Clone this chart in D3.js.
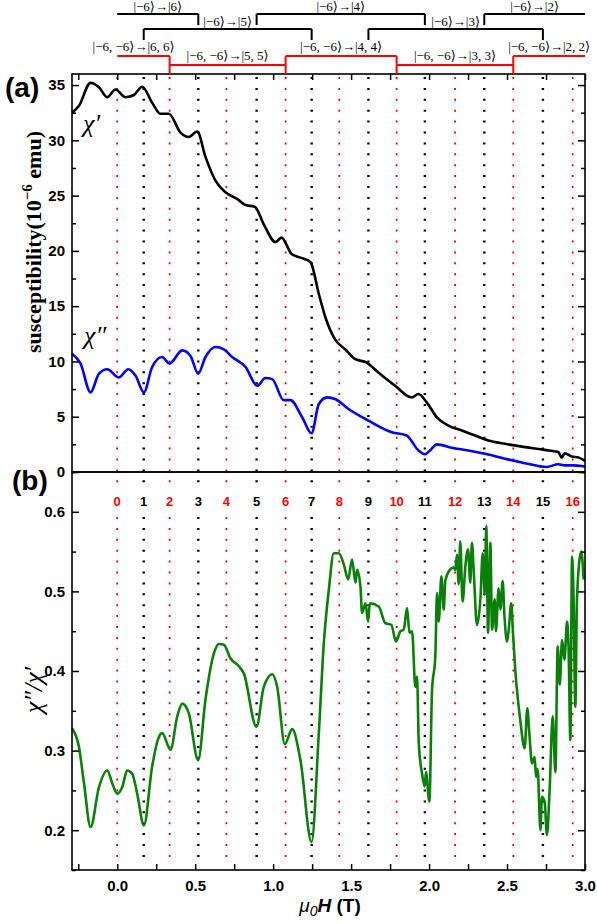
<!DOCTYPE html>
<html><head><meta charset="utf-8">
<script src="https://cdn.jsdelivr.net/npm/d3@7"></script>
<style>body{margin:0;background:#fff}</style>
</head><body>
<svg id="c" width="597" height="924"></svg>
<script>
// ---- data ----
const chiPrimeT = [-0.29,-0.246,-0.171,-0.117,-0.064,-0.011,0.053,0.107,0.160,0.224,0.278,0.331,0.406,0.459,0.513,0.566,0.630,0.694,0.769,0.823,0.882,0.94,1.015,1.053,1.12,1.186,1.239,1.293,1.335,1.397,1.462,1.526,1.60,1.675,1.782,1.889,1.932,1.985,2.05,2.124,2.21,2.295,2.38,2.487,2.615,2.74,2.829,2.85,2.87,2.914,2.96,3.0];
const chiPrimeV = [32.5,33.1,35.2,34.8,33.9,34.6,33.9,34.1,34.85,33.4,32.4,32.4,30.7,30.3,30.8,28.5,26.35,25.3,24.7,24.15,24.0,22.4,20.8,21.2,19.7,19.35,19.0,16.1,14.0,12.0,11.1,10.2,9.9,9.0,7.8,6.75,7.05,6.3,4.95,4.2,3.75,3.3,2.85,2.55,2.25,2.0,1.8,1.3,1.7,1.4,1.3,1.0];
const chiDoubleT = [-0.29,-0.235,-0.171,-0.117,-0.064,0.011,0.071,0.118,0.171,0.224,0.288,0.335,0.417,0.47,0.519,0.566,0.630,0.684,0.737,0.823,0.898,0.95,0.994,1.068,1.111,1.186,1.246,1.293,1.346,1.397,1.483,1.611,1.761,1.856,1.932,1.974,2.006,2.05,2.145,2.252,2.359,2.487,2.615,2.754,2.829,2.87,2.92,3.0];
const chiDoubleV = [10.7,9.8,7.2,8.9,9.3,8.55,9.3,8.7,7.2,9.5,10.4,9.8,11.0,10.5,8.9,10.4,11.3,11.1,10.4,9.5,7.8,8.5,8.4,6.5,6.5,4.95,3.5,6.15,6.75,6.6,5.7,4.65,3.6,3.3,1.95,1.6,1.95,2.5,2.2,1.95,1.65,1.2,0.8,0.45,0.7,0.6,0.6,0.5];
const ratioT = [-0.29,-0.246,-0.213,-0.171,-0.117,-0.064,-0.032,0.0,0.032,0.064,0.096,0.128,0.171,0.224,0.263,0.288,0.342,0.385,0.417,0.459,0.519,0.566,0.620,0.652,0.684,0.726,0.78,0.812,0.893,0.94,0.994,1.026,1.075,1.122,1.175,1.246,1.293,1.325,1.357,1.389,1.421,1.453,1.481,1.506,1.528,1.538,1.56,1.57,1.592,1.609,1.62,1.677,1.72,1.758,1.788,1.816,1.837,1.859,1.874,1.891,1.912,1.923,1.934,1.955,1.972,1.98,2.002,2.019,2.04,2.051,2.062,2.079,2.094,2.104,2.126,2.158,2.168,2.179,2.19,2.2,2.215,2.232,2.25,2.264,2.275,2.286,2.307,2.329,2.344,2.357,2.367,2.378,2.393,2.404,2.421,2.429,2.446,2.457,2.472,2.483,2.5,2.51,2.527,2.538,2.553,2.585,2.613,2.63,2.643,2.66,2.677,2.686,2.696,2.714,2.724,2.741,2.756,2.773,2.793,2.81,2.825,2.838,2.853,2.868,2.885,2.895,2.906,2.917,2.927,2.938,2.949,2.976,2.991];
const ratioV = [0.328,0.305,0.259,0.204,0.254,0.275,0.259,0.246,0.254,0.275,0.271,0.246,0.206,0.280,0.315,0.322,0.301,0.343,0.359,0.347,0.288,0.364,0.422,0.434,0.433,0.416,0.406,0.397,0.330,0.380,0.396,0.380,0.308,0.327,0.288,0.185,0.322,0.435,0.502,0.548,0.548,0.534,0.515,0.540,0.511,0.527,0.506,0.473,0.485,0.462,0.485,0.481,0.460,0.458,0.437,0.450,0.452,0.479,0.448,0.450,0.380,0.393,0.309,0.271,0.255,0.273,0.236,0.376,0.418,0.498,0.462,0.519,0.477,0.513,0.525,0.530,0.527,0.546,0.509,0.563,0.487,0.530,0.553,0.511,0.561,0.527,0.458,0.490,0.548,0.496,0.582,0.448,0.561,0.452,0.490,0.450,0.504,0.477,0.513,0.471,0.437,0.450,0.485,0.448,0.401,0.338,0.303,0.353,0.322,0.284,0.292,0.267,0.277,0.200,0.242,0.236,0.194,0.250,0.343,0.273,0.431,0.383,0.439,0.414,0.462,0.427,0.313,0.544,0.490,0.355,0.494,0.550,0.515];
const levelNums = [0,1,2,3,4,5,6,7,8,9,10,11,12,13,14,15,16];
const levelT = [0,0.17,0.336,0.52,0.70,0.894,1.08,1.247,1.424,1.611,1.792,1.973,2.167,2.354,2.54,2.73,2.921];
const redBreaks = [0,2,6,10,14];
const redLabels = ["|−6, −6⟩→|6, 6⟩","|−6, −6⟩→|5, 5⟩","|−6, −6⟩→|4, 4⟩","|−6, −6⟩→|3, 3⟩","|−6, −6⟩→|2, 2⟩"];
const row1Spans = [[0,3],[5,11],[13,null]];
const row1Labels = ["|−6⟩→|6⟩","|−6⟩→|4⟩","|−6⟩→|2⟩"];
const row2Spans = [[1,7],[9,15]];
const row2Labels = ["|−6⟩→|5⟩","|−6⟩→|3⟩"];
const xTicks = [0,0.5,1.0,1.5,2.0,2.5,3.0];
const xMinor = [-0.25,0.25,0.75,1.25,1.75,2.25,2.75];
const yaTicks = [0,5,10,15,20,25,30,35];
const yaMinor = [2.5,7.5,12.5,17.5,22.5,27.5,32.5];
const ybTicks = [0.2,0.3,0.4,0.5,0.6];
const ybMinor = [0.15,0.25,0.35,0.45,0.55,0.65];

// ---- layout ----
const L = 72, R = 585, TA = 74, MID = 472, BB = 870;
const svg = d3.select("#c");
const x = d3.scaleLinear([-0.29, 3.0], [L, R]);
const ya = d3.scaleLinear([0, 36], [MID, TA]);
const yb = d3.scaleLinear([0.15, 0.65], [BB, MID]);
const sans = "'Liberation Sans', Arial, sans-serif";
const serif = "'Liberation Serif', 'Times New Roman', 'DejaVu Serif', serif";

// dotted level lines
const lv = svg.append("g");
levelT.forEach((t, i) => {
  const col = i % 2 === 0 ? "#ff0000" : "#000";
  const w = i % 2 === 0 ? 1.8 : 2.4;
  [[TA + 3, 487], [517, BB - 5]].forEach(([a, b]) => {
    lv.append("line").attr("x1", x(t)).attr("x2", x(t)).attr("y1", a).attr("y2", b)
      .attr("stroke", col).attr("stroke-width", w).attr("stroke-dasharray", "2 8.9");
  });
  svg.append("text").attr("x", x(t)).attr("y", 506).attr("text-anchor", "middle")
    .attr("font-family", sans).attr("font-weight", "bold").attr("font-size", 13)
    .attr("fill", col).text(levelNums[i]);
});

// curves
const mk = (ys) => d3.line().x(d => x(d[0])).y(d => ys(d[1])).curve(d3.curveMonotoneX);
svg.append("path").datum(chiPrimeT.map((t, i) => [t, chiPrimeV[i]]))
  .attr("d", mk(ya)).attr("fill", "none").attr("stroke", "#000").attr("stroke-width", 2.6);
svg.append("path").datum(chiDoubleT.map((t, i) => [t, chiDoubleV[i]]))
  .attr("d", mk(ya)).attr("fill", "none").attr("stroke", "#0000ff").attr("stroke-width", 2.6);
svg.append("path").datum(ratioT.map((t, i) => [t, ratioV[i]]))
  .attr("d", mk(yb)).attr("fill", "none").attr("stroke", "#0a800a").attr("stroke-width", 2.6);

// frames
[[TA, MID], [MID, BB]].forEach(([a, b]) => {
  svg.append("rect").attr("x", L).attr("y", a).attr("width", R - L).attr("height", b - a)
    .attr("fill", "none").attr("stroke", "#000").attr("stroke-width", 1.6);
});

// axes
function ax(gen, tr, vals, size, fmt, pad) {
  const a = gen.tickValues(vals).tickSize(size).tickSizeOuter(0).tickPadding(pad || 3);
  a.tickFormat(fmt || "");
  const g = svg.append("g").attr("transform", tr).call(a);
  g.select(".domain").remove();
  g.selectAll("line").attr("stroke-width", 1.5);
  g.selectAll("text").attr("font-family", sans).attr("font-weight", "bold").attr("font-size", 15).attr("fill", "#000");
  return g;
}
ax(d3.axisLeft(ya), `translate(${L},0)`, yaTicks, -7, d3.format("d"), 7);
ax(d3.axisLeft(ya), `translate(${L},0)`, yaMinor, -4);
ax(d3.axisRight(ya), `translate(${R},0)`, yaTicks, -7);
ax(d3.axisRight(ya), `translate(${R},0)`, yaMinor, -4);
ax(d3.axisTop(x), `translate(0,${TA})`, xTicks, -6);
ax(d3.axisTop(x), `translate(0,${TA})`, xMinor, -6);
ax(d3.axisLeft(yb), `translate(${L},0)`, ybTicks, -7, d3.format(".1f"), 7);
ax(d3.axisLeft(yb), `translate(${L},0)`, ybMinor, -4);
ax(d3.axisRight(yb), `translate(${R},0)`, ybTicks, -7);
ax(d3.axisRight(yb), `translate(${R},0)`, ybMinor, -4);
ax(d3.axisBottom(x), `translate(0,${BB})`, xTicks, -6, d3.format(".1f"), 10);
ax(d3.axisBottom(x), `translate(0,${BB})`, xMinor, -6);

// top transition brackets
const tb = svg.append("g").attr("fill", "none");
const hiY = 56, loY = 65;
const lbl = (xx, yy, s, anchor) => svg.append("text").attr("x", xx).attr("y", yy)
  .attr("text-anchor", anchor || "middle").attr("font-family", serif).attr("font-size", 13).attr("fill", "#000").text(s);
redBreaks.forEach((bi, i) => {
  const x0 = x(levelT[bi]);
  const x1 = i < redBreaks.length - 1 ? x(levelT[redBreaks[i + 1]]) : R;
  const yy = i % 2 === 0 ? hiY : loY;
  tb.append("line").attr("x1", x0).attr("x2", x1).attr("y1", yy).attr("y2", yy)
    .attr("stroke", "#ff0000").attr("stroke-width", 2);
  if (i > 0) tb.append("line").attr("x1", x0).attr("x2", x0).attr("y1", hiY).attr("y2", TA)
    .attr("stroke", "#ff0000").attr("stroke-width", 2);
  if (i === 0) lbl(x1 + 5, yy - 5, redLabels[i], "end");
  else lbl((x0 + x1) / 2, yy - 5, redLabels[i]);
});
function bracket(spans, labels, top, bot, ly) {
  spans.forEach((s, i) => {
    const x0 = x(levelT[s[0]]);
    const x1 = s[1] === null ? R : x(levelT[s[1]]);
    tb.append("line").attr("x1", x0).attr("x2", x1).attr("y1", top).attr("y2", top)
      .attr("stroke", "#000").attr("stroke-width", 2);
    if (s[0] > 0) tb.append("line").attr("x1", x0).attr("x2", x0).attr("y1", top).attr("y2", bot)
      .attr("stroke", "#000").attr("stroke-width", 2);
    if (s[1] !== null) tb.append("line").attr("x1", x1).attr("x2", x1).attr("y1", top).attr("y2", bot)
      .attr("stroke", "#000").attr("stroke-width", 2);
    lbl((x0 + x1) / 2, ly, labels[i]);
  });
}
bracket(row1Spans, row1Labels, 14, 25, 11);
bracket(row2Spans, row2Labels, 29, 40, 26);

// panel letters
svg.append("text").attr("x", 5).attr("y", 97).attr("font-family", sans).attr("font-weight", "bold").attr("font-size", 28).text("(a)");
svg.append("text").attr("x", 12).attr("y", 490).attr("font-family", sans).attr("font-weight", "bold").attr("font-size", 28).text("(b)");
// curve labels
svg.append("text").attr("x", 83).attr("y", 132).attr("font-family", serif).attr("font-style", "italic").attr("font-size", 26).text("χ′");
svg.append("text").attr("x", 84).attr("y", 344).attr("font-family", serif).attr("font-style", "italic").attr("font-size", 26).text("χ″");

// y label (a)
const yl = svg.append("text").attr("transform", "translate(41,242) rotate(-90)").attr("text-anchor", "middle")
  .attr("font-family", serif).attr("font-weight", "bold").attr("font-size", 22);
yl.append("tspan").text("susceptibility(10");
yl.append("tspan").attr("dy", -9).attr("font-size", 15).text("−6");
yl.append("tspan").attr("dy", 9).text(" emu)");
// y label (b)
svg.append("text").attr("transform", "translate(42,690) rotate(-90)").attr("text-anchor", "middle")
  .attr("font-family", serif).attr("font-style", "italic").attr("font-size", 26).text("χ″/χ′");
// x label
const xl = svg.append("text").attr("x", 330).attr("y", 912).attr("text-anchor", "middle")
  .attr("font-family", sans).attr("font-weight", "bold").attr("font-size", 19);
xl.append("tspan").attr("font-style", "italic").attr("font-weight", "normal").text("μ");
xl.append("tspan").attr("font-style", "italic").attr("font-weight", "normal").attr("font-size", 14).attr("dy", 4).text("0");
xl.append("tspan").attr("font-style", "italic").attr("dy", -4).text("H");
xl.append("tspan").text(" (T)");
</script>
</body></html>
